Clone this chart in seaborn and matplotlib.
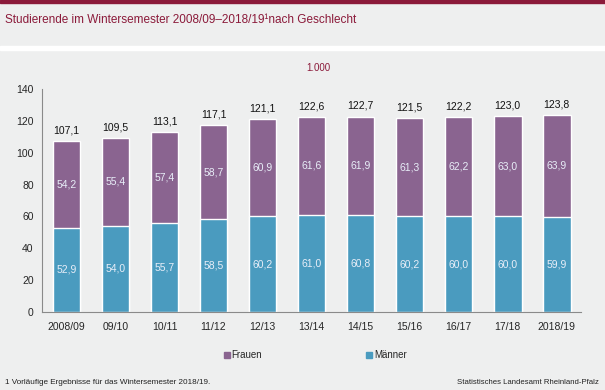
import matplotlib
matplotlib.use("Agg")
import matplotlib.pyplot as plt
import numpy as np
import pandas as pd
import seaborn as sns
from matplotlib.lines import Line2D

semester = ["2008/09", "09/10", "10/11", "11/12", "12/13", "13/14",
            "14/15", "15/16", "16/17", "17/18", "2018/19"]
maenner = [52.9, 54.0, 55.7, 58.5, 60.2, 61.0, 60.8, 60.2, 60.0, 60.0, 59.9]
frauen = [54.2, 55.4, 57.4, 58.7, 60.9, 61.6, 61.9, 61.3, 62.2, 63.0, 63.9]
insgesamt = [107.1, 109.5, 113.1, 117.1, 121.1, 122.6, 122.7, 121.5, 122.2, 123.0, 123.8]

c_m = "#4a9bbf"
c_f = "#8a6490"
bg = "#eeefef"
red = "#8b1a3a"

df = pd.DataFrame({"sem": semester, "m": maenner, "f": frauen, "t": insgesamt})

sns.set_style("white")
plt.rcParams["font.family"] = ["Liberation Sans", "DejaVu Sans"]

fig = plt.figure(figsize=(6.05, 3.9), dpi=100, facecolor=bg)
ax = fig.add_axes([0.0694, 0.2, 0.891, 0.5718])
ax.set_facecolor(bg)

# stacked: total bar in Frauen colour, Männer drawn over it
sns.barplot(data=df, x="sem", y="t", color=c_f, width=0.57, saturation=1, ax=ax)
sns.barplot(data=df, x="sem", y="m", color=c_m, width=0.57, saturation=1, ax=ax)

fmt = lambda v: f"{v:.1f}".replace(".", ",")
for i in range(len(semester)):
    ax.text(i, maenner[i] / 2, fmt(maenner[i]), ha="center", va="center",
            fontsize=7.5, color="#e8eef8")
    ax.text(i, maenner[i] + frauen[i] / 2, fmt(frauen[i]), ha="center", va="center",
            fontsize=7.5, color="#e8eef8")
    ax.annotate(fmt(insgesamt[i]), (i, insgesamt[i]), xytext=(0, 4),
                textcoords="offset points", ha="center", va="bottom",
                fontsize=7.5, color="#111111")

ax.set_xlim(-0.5, len(semester) - 0.5)
ax.set_ylim(0, 140)
ax.set_yticks(np.arange(0, 141, 20))
ax.set_xlabel("")
ax.set_ylabel("")
for s in ["top", "right"]:
    ax.spines[s].set_visible(False)
for s in ["left", "bottom"]:
    ax.spines[s].set_color("#8a8a8a")
    ax.spines[s].set_linewidth(0.8)
ax.tick_params(axis="y", length=4, color="#8a8a8a", labelsize=7.5, pad=2, direction="out")
ax.tick_params(axis="x", which="major", length=0, labelsize=7.5, pad=7)
ax.set_xticks(np.arange(-0.5, len(semester), 1), minor=True)
ax.tick_params(axis="x", which="minor", length=4, color="#8a8a8a", direction="out")

# title band
fig.patches.append(plt.Rectangle((0, 1 - 2.5 / 390), 1, 2.5 / 390, transform=fig.transFigure,
                                 color=red, zorder=0))
fig.patches.append(plt.Rectangle((0, 1 - 50 / 390), 1, 4 / 390, transform=fig.transFigure,
                                 color="white", zorder=0))
fig.text(5 / 605, 1 - 20 / 390, "Studierende im Wintersemester 2008/09–2018/19¹nach Geschlecht",
         fontsize=8.5, color=red, va="center", ha="left")
fig.text(318 / 605, 1 - 68 / 390, "1.000", fontsize=7, color=red, ha="center", va="center")

handles = [Line2D([], [], marker="s", linestyle="", color=c_f, markersize=5),
           Line2D([], [], marker="s", linestyle="", color=c_m, markersize=5)]
fig.legend(handles, ["Frauen", "Männer"], loc="center", bbox_to_anchor=(0.52, 1 - 355 / 390),
           ncol=2, frameon=False, fontsize=7, handletextpad=0.1, columnspacing=10.6,
           handlelength=0.8)

fig.text(5 / 605, 1 - 382 / 390, "1 Vorläufige Ergebnisse für das Wintersemester 2018/19.",
         fontsize=5.9, color="#222222", va="center", ha="left")
fig.text(599 / 605, 1 - 382 / 390, "Statistisches Landesamt Rheinland-Pfalz",
         fontsize=5.6, color="#222222", va="center", ha="right")

fig.savefig("out.png", dpi=100, facecolor=bg)
